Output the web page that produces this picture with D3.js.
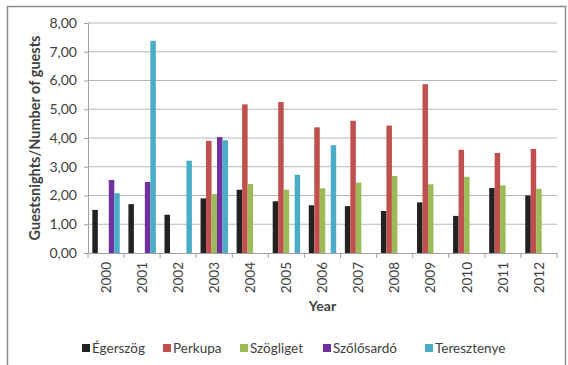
<!DOCTYPE html>
<html>
<head>
<meta charset="utf-8">
<script src="https://cdn.jsdelivr.net/npm/d3@7"></script>
<style>
  body { margin: 0; background: #fff; }
  text { font-family: Lato, "Open Sans", sans-serif; fill: #404040; }
</style>
</head>
<body>
<svg id="chart" width="568" height="365"></svg>
<script>
// data
const years = ["2000","2001","2002","2003","2004","2005","2006","2007","2008","2009","2010","2011","2012"];
const seriesNames = ["Égerszög", "Perkupa", "Szögliget", "Szőlősardó", "Teresztenye"];
const egerszog    = [1.50, 1.70, 1.33, 1.90, 2.20, 1.80, 1.66, 1.63, 1.46, 1.76, 1.29, 2.26, 2.00];
const perkupa     = [null, null, null, 3.90, 5.17, 5.25, 4.37, 4.60, 4.43, 5.87, 3.59, 3.48, 3.62];
const szogliget   = [null, null, null, 2.05, 2.40, 2.20, 2.25, 2.45, 2.68, 2.39, 2.65, 2.35, 2.23];
const szolosardo  = [2.54, 2.47, null, 4.03, null, null, null, null, null, null, null, null, null];
const teresztenye = [2.08, 7.38, 3.21, 3.92, null, 2.72, 3.75, null, null, null, null, null, null];
const yTicks = [0, 1, 2, 3, 4, 5, 6, 7, 8];
const colors = ["#222222", "#c0504d", "#9bbb59", "#7030a0", "#4bacc6"];

const allSeries = [egerszog, perkupa, szogliget, szolosardo, teresztenye];

const svg = d3.select("#chart");

// outer chart border
svg.append("rect")
   .attr("x", 7.5).attr("y", 6.5)
   .attr("width", 558).attr("height", 365)
   .attr("fill", "#fff")
   .attr("stroke", "#8c8c8c")
   .attr("stroke-width", 1.5);

const margin = { top: 23, left: 88, right: 11, bottom: 112 },
      width = 568 - margin.left - margin.right,
      height = 365 - margin.top - margin.bottom;

const g = svg.append("g").attr("transform", `translate(${margin.left},${margin.top})`);

const x0 = d3.scaleBand().domain(years).range([0, width]).padding(0);
const groupPad = x0.bandwidth() * 0.12;
const x1 = d3.scaleBand().domain(seriesNames).range([groupPad, x0.bandwidth() - groupPad]).padding(0);
const y = d3.scaleLinear().domain([0, 8]).range([height, 0]);
const fmt = d => d.toFixed(2).replace(".", ",");

// gridlines
g.append("g")
 .selectAll("line")
 .data(yTicks.slice(1))
 .join("line")
 .attr("x1", 0).attr("x2", width)
 .attr("y1", d => y(d)).attr("y2", d => y(d))
 .attr("stroke", "#b8b8b8").attr("stroke-width", 1.2);

// y axis
const yAxis = g.append("g")
   .call(d3.axisLeft(y).tickValues(yTicks).tickFormat(fmt).tickSize(4).tickPadding(7));
yAxis.select(".domain").attr("stroke", "#a0a0a0");
yAxis.selectAll(".tick line").attr("stroke", "#a0a0a0");
yAxis.selectAll("text").style("font-size", "14px").attr("fill", "#404040");

// bars
const rows = [];
years.forEach((yr, i) => {
  seriesNames.forEach((s, j) => {
    if (allSeries[j][i] != null) rows.push({ year: yr, series: s, value: allSeries[j][i], idx: j });
  });
});

g.append("g")
 .selectAll("rect")
 .data(rows)
 .join("rect")
 .attr("x", d => x0(d.year) + x1(d.series))
 .attr("width", x1.bandwidth())
 .attr("y", d => y(d.value))
 .attr("height", d => y(0) - y(d.value))
 .attr("fill", d => colors[d.idx]);

// x axis
const xAxis = g.append("g")
   .attr("transform", `translate(0,${height})`)
   .call(d3.axisBottom(x0).tickSize(0).tickPadding(0));
xAxis.select(".domain").attr("stroke", "#a0a0a0");
xAxis.selectAll(".tick text")
     .attr("transform", "rotate(-90)")
     .attr("text-anchor", "end")
     .attr("x", -9)
     .attr("y", 0)
     .attr("dy", "0.35em")
     .style("font-size", "13.5px")
     .attr("fill", "#404040");

// tick marks between categories
g.append("g")
 .selectAll("line")
 .data(d3.range(years.length + 1))
 .join("line")
 .attr("x1", i => i * x0.step()).attr("x2", i => i * x0.step())
 .attr("y1", height).attr("y2", height + 5)
 .attr("stroke", "#a0a0a0");

// axis titles
svg.append("text")
   .attr("x", margin.left + width / 2)
   .attr("y", 311)
   .attr("text-anchor", "middle")
   .style("font-size", "14px")
   .style("font-weight", "bold")
   .text("Year");

svg.append("text")
   .attr("transform", `translate(40,${margin.top + height / 2}) rotate(-90)`)
   .attr("text-anchor", "middle")
   .style("font-size", "14.5px")
   .style("font-weight", "bold")
   .text("Guestsnights/Number of guests");

// legend
const legendX = [82, 163, 240, 323, 425];
const legend = svg.append("g").attr("class", "legend");
seriesNames.forEach((name, i) => {
  const row = legend.append("g").attr("transform", `translate(${legendX[i]}, 344)`);
  row.append("rect")
     .attr("width", 8).attr("height", 8)
     .attr("fill", colors[i]);
  row.append("text")
     .attr("x", 10).attr("y", 8.5)
     .style("font-size", "13.5px")
     .text(name);
});
</script>
</body>
</html>
